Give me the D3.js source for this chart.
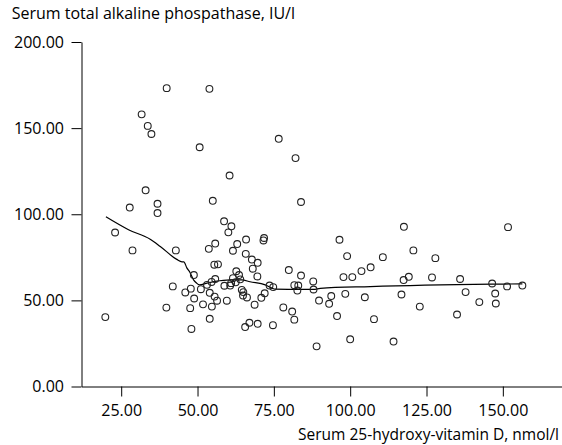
<!DOCTYPE html>
<html>
<head>
<meta charset="utf-8">
<script src="https://cdn.jsdelivr.net/npm/d3@7/dist/d3.min.js"></script>
<style>
  html, body { margin: 0; padding: 0; background: #fff; }
  svg { display: block; }
  text { font-family: "Open Sans", "Noto Sans", sans-serif; fill: #000; }
</style>
</head>
<body>
<svg id="chart" width="562" height="445"></svg>
<script>
// ---- Data ----
const vitD = [39.9,53.9,31.7,33.7,34.9,50.7,76.6,60.5,33.0,55.0,36.9,36.9,27.8,23.0,82.1,83.9,58.7,61.1,60.1,65.9,
  71.8,71.6,96.5,53.7,55.8,63.0,61.6,65.8,67.8,69.7,55.5,56.7,68.1,62.7,63.6,69.6,55.8,54.6,61.6,64.0,
  61.0,62.5,53.1,58.8,60.7,51.1,54.0,72.0,73.6,74.8,70.9,55.6,56.4,59.6,51.8,54.7,68.7,54.0,65.6,67.0,
  69.7,74.7,79.9,83.9,81.7,83.0,82.7,87.9,88.0,89.8,78.1,81.0,81.7,89.0,93.8,93.1,95.7,99.0,97.8,100.7,
  103.7,106.7,98.4,104.8,100.0,107.8,117.6,151.7,120.7,110.7,127.9,119.2,117.5,126.8,136.0,146.5,151.4,156.4,116.8,137.8,
  147.5,122.8,142.3,147.7,135.0,114.2,28.7,42.9,48.8,41.9,46.0,47.8,48.9,47.6,39.8,48.0,19.8,64.5,65.0,64.9,66.2];
const alp = [173.2,172.8,158.0,151.3,146.6,138.9,143.8,122.5,113.9,107.8,106.1,100.7,103.9,89.4,132.6,107.1,95.9,93.0,89.5,85.3,
  86.2,84.8,85.2,79.9,83.0,82.7,78.8,77.0,73.7,71.8,70.7,70.9,68.4,66.9,64.7,63.9,62.4,60.7,62.9,62.2,
  60.0,60.5,59.0,58.5,58.6,56.5,54.4,54.1,58.6,57.7,51.5,52.2,49.8,49.8,47.7,46.4,47.5,39.3,34.5,37.0,
  36.4,35.6,67.6,64.4,58.8,58.6,55.7,61.0,56.3,49.9,45.9,43.5,38.8,23.3,52.5,48.0,40.9,75.7,63.5,63.5,
  67.0,69.2,53.8,51.8,27.4,39.1,92.7,92.5,79.0,75.1,74.5,63.7,61.8,63.3,62.4,59.8,58.1,58.6,53.4,54.8,
  54.0,46.4,49.0,48.2,41.8,26.1,79.0,79.0,64.7,58.1,54.6,56.8,51.1,45.5,45.8,33.4,40.3,56.1,54.8,52.8,51.7];

// Smoothed (LOESS-like) fit line
const fitX = [20.0,27.4,34.5,37.8,43.2,44.9,45.5,46.5,47.4,48.7,49.6,50.6,53.1,55.8,60.7,64.5,67.2,72.2,74.4,75.4,88.0,90.2,106.6,146.5,156.4];
const fitY = [98.5,91.0,85.5,81.3,73.8,72.4,72.4,68.9,66.6,61.9,60.2,59.0,60.0,61.0,61.9,61.9,60.8,59.0,57.1,56.5,56.4,57.0,58.0,59.4,59.6];

const xTicks = [25, 50, 75, 100, 125, 150];
const yTicks = [0, 50, 100, 150, 200];
const xTitle = "Serum 25-hydroxy-vitamin D, nmol/l";
const yTitle = "Serum total alkaline phospathase, IU/l";

// ---- Chart ----
const svg = d3.select("#chart");
const x = d3.scaleLinear().domain([12, 170]).range([81.5, 563.9]);
const y = d3.scaleLinear().domain([0, 200]).range([386.5, 42.0]);
const fmt = d3.format(".2f");
const fontSize = 16;

const gx = svg.append("g").attr("transform", `translate(0,${y(0)})`)
  .call(d3.axisBottom(x).tickValues(xTicks).tickFormat(fmt).tickSize(10).tickSizeOuter(0).tickPadding(8.5));
const gy = svg.append("g").attr("transform", `translate(${x(12)},0)`)
  .call(d3.axisLeft(y).tickValues(yTicks).tickFormat(fmt).tickSize(10).tickSizeOuter(0).tickPadding(7.5));

[gx, gy].forEach(g => {
  g.selectAll("path.domain").attr("stroke", "#000").attr("stroke-width", 1);
  g.selectAll(".tick line").attr("stroke", "#000").attr("stroke-width", 1);
  g.selectAll(".tick text").attr("font-family", "Open Sans, Noto Sans, sans-serif")
    .attr("font-size", fontSize).attr("fill", "#000");
});

// fit line
const pts = fitX.map((d, i) => [d, fitY[i]]);
svg.append("path")
  .attr("d", d3.line().curve(d3.curveMonotoneX).x(d => x(d[0])).y(d => y(d[1]))(pts))
  .attr("fill", "none").attr("stroke", "#000").attr("stroke-width", 1.2);

// scatter points
const data = vitD.map((d, i) => ({ v: d, a: alp[i] }));
svg.append("g").selectAll("circle").data(data).join("circle")
  .attr("cx", d => x(d.v)).attr("cy", d => y(d.a)).attr("r", 3.4)
  .attr("fill", "none").attr("stroke", "#222").attr("stroke-width", 1.1);

// titles
svg.append("text").attr("x", 11.7).attr("y", 18.5)
  .attr("font-size", fontSize).text(yTitle);
svg.append("text").attr("x", 559).attr("y", 439.5).attr("text-anchor", "end")
  .attr("font-size", 15.5).text(xTitle);
</script>
</body>
</html>
